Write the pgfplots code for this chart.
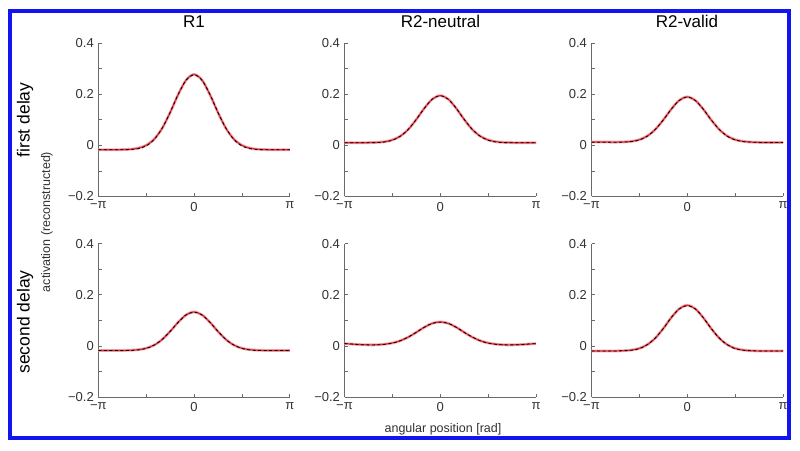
\documentclass[border=0pt]{standalone}
\usepackage{pgfplots}
\pgfplotsset{compat=1.18}
\usepackage{pgfplotstable}
\usepackage{fontspec}
\setmainfont{Liberation Sans}
\definecolor{axgray}{HTML}{6A6A6A}
\definecolor{txtgray}{HTML}{333333}
\definecolor{curvered}{HTML}{E0303C}
\definecolor{bandpink}{HTML}{F5A8AE}
\definecolor{frameblue}{HTML}{1414F0}

% R1, first delay
\pgfplotstableread{
x y f
-3.1416 -0.017 -0.017
-2.8798 -0.017 -0.017
-2.6180 -0.017 -0.017
-2.3562 -0.0165 -0.017
-2.0944 -0.0151 -0.016
-1.8326 -0.0107 -0.013
-1.5708 0.0004 -0.002
-1.3090 0.0243 0.023
-1.0472 0.0668 0.067
-0.7854 0.1284 0.129
-0.5236 0.1984 0.199
-0.2618 0.2556 0.255
0.0000 0.278 0.276
0.2618 0.2556 0.255
0.5236 0.1984 0.199
0.7854 0.1284 0.129
1.0472 0.0668 0.067
1.3090 0.0243 0.023
1.5708 0.0004 -0.002
1.8326 -0.0107 -0.013
2.0944 -0.0151 -0.016
2.3562 -0.0165 -0.017
2.6180 -0.017 -0.017
2.8798 -0.017 -0.017
3.1416 -0.017 -0.017
}\tAa
% R2-neutral, first delay
\pgfplotstableread{
x y f
-3.1416 0.0105 0.0105
-2.8798 0.0105 0.0105
-2.6180 0.0105 0.0105
-2.3562 0.0108 0.0105
-2.0944 0.0117 0.011
-1.8326 0.0144 0.013
-1.5708 0.0214 0.020
-1.3090 0.0363 0.036
-1.0472 0.0629 0.063
-0.7854 0.1015 0.102
-0.5236 0.1452 0.145
-0.2618 0.1810 0.181
0.0000 0.195 0.194
0.2618 0.1810 0.181
0.5236 0.1452 0.145
0.7854 0.1015 0.102
1.0472 0.0629 0.063
1.3090 0.0363 0.036
1.5708 0.0214 0.020
1.8326 0.0144 0.013
2.0944 0.0117 0.011
2.3562 0.0108 0.0105
2.6180 0.0105 0.0105
2.8798 0.0105 0.0105
3.1416 0.0105 0.0105
}\tAb
% R2-valid, first delay
\pgfplotstableread{
x y f
-3.1416 0.013 0.012
-2.8798 0.013 0.012
-2.6180 0.013 0.012
-2.3562 0.0128 0.012
-2.0944 0.0135 0.013
-1.8326 0.0158 0.015
-1.5708 0.0225 0.021
-1.3090 0.0369 0.036
-1.0472 0.0626 0.063
-0.7854 0.0998 0.100
-0.5236 0.1419 0.142
-0.2618 0.1765 0.176
0.0000 0.190 0.189
0.2618 0.1765 0.176
0.5236 0.1419 0.142
0.7854 0.0998 0.100
1.0472 0.0626 0.063
1.3090 0.0369 0.036
1.5708 0.0225 0.021
1.8326 0.0158 0.015
2.0944 0.0130 0.013
2.3562 0.0118 0.012
2.6180 0.011 0.011
2.8798 0.011 0.011
3.1416 0.011 0.011
}\tAc
% R1, second delay
\pgfplotstableread{
x y f
-3.1416 -0.018 -0.018
-2.8798 -0.018 -0.018
-2.6180 -0.018 -0.018
-2.3562 -0.0177 -0.018
-2.0944 -0.0170 -0.018
-1.8326 -0.0148 -0.016
-1.5708 -0.0091 -0.010
-1.3090 0.0031 0.003
-1.0472 0.0249 0.025
-0.7854 0.0564 0.057
-0.5236 0.0922 0.092
-0.2618 0.1215 0.121
0.0000 0.133 0.132
0.2618 0.1215 0.121
0.5236 0.0922 0.092
0.7854 0.0564 0.057
1.0472 0.0249 0.025
1.3090 0.0031 0.003
1.5708 -0.0091 -0.010
1.8326 -0.0148 -0.016
2.0944 -0.0170 -0.018
2.3562 -0.0177 -0.018
2.6180 -0.018 -0.018
2.8798 -0.018 -0.018
3.1416 -0.018 -0.018
}\tBa
% R2-neutral, second delay
\pgfplotstableread{
x y f
-3.1416 0.009 0.009
-2.8798 0.007 0.007
-2.6180 0.005 0.005
-2.3562 0.004 0.004
-2.0944 0.0043 0.004
-1.8326 0.0066 0.006
-1.5708 0.0114 0.011
-1.3090 0.0204 0.020
-1.0472 0.0346 0.035
-0.7854 0.0532 0.053
-0.5236 0.0729 0.073
-0.2618 0.0882 0.088
0.0000 0.094 0.093
0.2618 0.0882 0.088
0.5236 0.0729 0.073
0.7854 0.0532 0.053
1.0472 0.0346 0.035
1.3090 0.0204 0.020
1.5708 0.0114 0.011
1.8326 0.0066 0.006
2.0944 0.0043 0.004
2.3562 0.004 0.004
2.6180 0.005 0.005
2.8798 0.007 0.007
3.1416 0.009 0.009
}\tBb
% R2-valid, second delay
\pgfplotstableread{
x y f
-3.1416 -0.020 -0.020
-2.8798 -0.020 -0.020
-2.6180 -0.020 -0.020
-2.3562 -0.0197 -0.020
-2.0944 -0.0188 -0.019
-1.8326 -0.0162 -0.017
-1.5708 -0.0095 -0.011
-1.3090 0.0051 0.005
-1.0472 0.0308 0.031
-0.7854 0.0682 0.068
-0.5236 0.1107 0.111
-0.2618 0.1454 0.145
0.0000 0.159 0.157
0.2618 0.1454 0.145
0.5236 0.1107 0.111
0.7854 0.0682 0.068
1.0472 0.0308 0.031
1.3090 0.0051 0.005
1.5708 -0.0095 -0.011
1.8326 -0.0162 -0.017
2.0944 -0.0188 -0.019
2.3562 -0.0197 -0.020
2.6180 -0.020 -0.020
2.8798 -0.020 -0.020
3.1416 -0.020 -0.020
}\tBc

\pgfplotsset{
  pan/.style={
    scale only axis, width=191.5pt, height=153.3pt,
    anchor=south west,
    xmin=-3.1416, xmax=3.1416, ymin=-0.2, ymax=0.4,
    axis x line=bottom, axis y line=left,
    axis line style={-, axgray, line width=0.8pt},
    tick style={axgray, line width=0.7pt},
    tick align=inside, major tick length=3.5pt,
    xtick={-3.1416,-1.5708,0,1.5708,3.1416},
    xticklabels={−π,,0,,π},
    ytick={-0.2,-0.1,0,0.1,0.2,0.3,0.4},
    yticklabels={−0.2,,0,,0.2,,0.4},
    ticklabel style={font=\fontsize{13}{14}\selectfont, text=txtgray},
    xticklabel style={yshift=-2pt},
    yticklabel style={xshift=-1pt},
    /pgf/number format/assume math mode=true,
    clip=false,
  },
  band/.style={bandpink, line width=2.8pt, smooth, no marks},
  red/.style={curvered, line width=1.2pt, smooth, no marks},
  fit/.style={black, line width=0.8pt, dash pattern=on 3pt off 2.5pt, smooth, no marks},
}

\begin{document}
\begin{tikzpicture}
\useasboundingbox (0pt,0pt) rectangle (800pt,450pt);
\fill[white] (0pt,0pt) rectangle (800pt,450pt);

\begin{axis}[pan, at={(98.3pt,253.5pt)}]
\addplot[band] table[x=x,y=y] {\tAa};
\addplot[red] table[x=x,y=y] {\tAa};
\addplot[fit] table[x=x,y=f] {\tAa};
\end{axis}
\begin{axis}[pan, at={(344.5pt,253.5pt)}]
\addplot[band] table[x=x,y=y] {\tAb};
\addplot[red] table[x=x,y=y] {\tAb};
\addplot[fit] table[x=x,y=f] {\tAb};
\end{axis}
\begin{axis}[pan, at={(591.5pt,253.5pt)}]
\addplot[band] table[x=x,y=y] {\tAc};
\addplot[red] table[x=x,y=y] {\tAc};
\addplot[fit] table[x=x,y=f] {\tAc};
\end{axis}

\begin{axis}[pan, at={(98.3pt,53pt)}]
\addplot[band] table[x=x,y=y] {\tBa};
\addplot[red] table[x=x,y=y] {\tBa};
\addplot[fit] table[x=x,y=f] {\tBa};
\end{axis}
\begin{axis}[pan, at={(344.5pt,53pt)}]
\addplot[band] table[x=x,y=y] {\tBb};
\addplot[red] table[x=x,y=y] {\tBb};
\addplot[fit] table[x=x,y=f] {\tBb};
\end{axis}
\begin{axis}[pan, at={(591.5pt,53pt)}]
\addplot[band] table[x=x,y=y] {\tBc};
\addplot[red] table[x=x,y=y] {\tBc};
\addplot[fit] table[x=x,y=f] {\tBc};
\end{axis}

% column titles
\node[font=\fontsize{17}{19}\selectfont, text=black] at (194pt,428.5pt) {R1};
\node[font=\fontsize{17}{19}\selectfont, text=black] at (440.5pt,428.5pt) {R2-neutral};
\node[font=\fontsize{17}{19}\selectfont, text=black] at (687pt,428.5pt) {R2-valid};
% row labels
\node[rotate=90, font=\fontsize{17.5}{19}\selectfont] at (25pt,330pt) {first delay};
\node[rotate=90, font=\fontsize{17.5}{19}\selectfont] at (25pt,128pt) {second delay};
% axis labels
\node[rotate=90, font=\fontsize{12.5}{14}\selectfont, text=txtgray] at (47pt,228pt) {activation (reconstructed)};
\node[font=\fontsize{12.5}{14}\selectfont, text=txtgray] at (443pt,21pt) {angular position [rad]};

% frame
\draw[frameblue, line width=4pt] (10pt,12pt) rectangle (789pt,438.5pt);
\end{tikzpicture}
\end{document}
